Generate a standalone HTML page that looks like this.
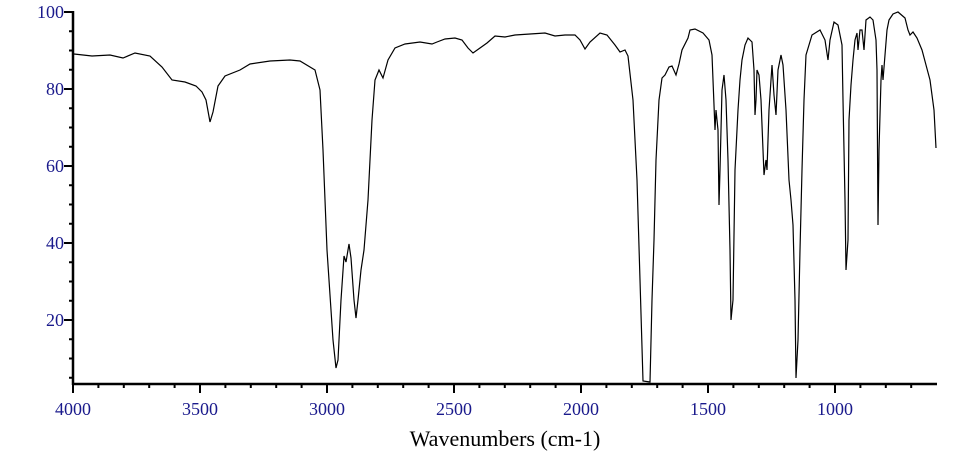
<!DOCTYPE html>
<html><head><meta charset="utf-8"><style>
html,body{margin:0;padding:0;background:#fff;width:960px;height:472px;overflow:hidden}
text{font-family:"Liberation Serif",serif}
</style></head><body>
<svg width="960" height="472" viewBox="0 0 960 472" xmlns="http://www.w3.org/2000/svg">
<g id="ticks" stroke="#000" stroke-width="2"></g>
<line x1="73" y1="11" x2="73" y2="385" stroke="#000" stroke-width="2.5"/>
<line x1="72" y1="384" x2="937" y2="384" stroke="#000" stroke-width="2.5"/>
<g fill="#1a1a8c" font-size="18">
<text x="64" y="18" text-anchor="end">100</text>
<text x="64" y="95" text-anchor="end">80</text>
<text x="64" y="172" text-anchor="end">60</text>
<text x="64" y="249" text-anchor="end">40</text>
<text x="64" y="326" text-anchor="end">20</text>
<text x="73" y="415" text-anchor="middle">4000</text>
<text x="200" y="415" text-anchor="middle">3500</text>
<text x="327" y="415" text-anchor="middle">3000</text>
<text x="454" y="415" text-anchor="middle">2500</text>
<text x="581" y="415" text-anchor="middle">2000</text>
<text x="708" y="415" text-anchor="middle">1500</text>
<text x="835" y="415" text-anchor="middle">1000</text>
</g>
<text x="505" y="446" text-anchor="middle" font-size="22" fill="#000">Wavenumbers (cm-1)</text>
<polyline fill="none" stroke="#000" stroke-width="1.2" points="74,54 92,56 110,55 123,58 135,53 150,56 162,67 172,80 185,82 196,86 202,92 206,100 210,122 213,112 218,86 225,76 240,70 250,64 270,61 290,60 300,61 315,70 320,90 323,150 327,250 333,340 336,368 338,360 341,300 344,256 346,262 349,244 351,258 354,300 356,318 358,300 361,270 364,250 368,200 372,120 375,80 379,70 383,78 388,60 395,48 405,44 420,42 432,44 437,42 445,39 455,38 462,40 468,48 473,53 480,48 487,43 495,36 505,37 515,35 530,34 545,33 555,36 565,35 575,35 580,40 585,49 590,42 600,33 607,35 615,45 620,52 625,50 628,56 633,100 637,180 640,280 643,381 650,382 652,300 654,240 656,160 659,100 662,78 665,75 669,67 672,66 676,75 679,64 682,50 688,38 690,30 695,29 703,33 709,40 712,55 715,130 716,110 718,130 719,205 720,170 722,90 724,75 726,100 728,160 730,250 731,320 733,300 735,170 738,110 740,80 742,60 745,45 748,38 752,42 754,70 755,115 756,100 757,70 759,75 761,100 763,150 764,175 766,160 767,170 769,110 772,65 774,95 776,115 778,70 781,55 783,65 786,110 789,180 791,200 793,225 795,300 796,378 798,340 800,250 802,170 804,100 806,55 812,35 820,30 825,40 828,60 830,40 834,22 838,25 842,45 843,100 845,200 846,270 848,240 849,120 851,85 853,60 855,40 857,33 858,50 860,30 862,30 864,50 866,20 870,17 873,20 876,40 877,70 878,225 879,150 881,80 882,65 883,80 885,55 887,30 889,20 893,14 898,12 905,18 908,30 910,35 913,32 917,38 922,50 926,65 930,80 934,110 936,148"/>
</svg>
<script>
var g=document.getElementById('ticks'),s='';
for(var v=5;v<=100;v+=5){var y=12+(100-v)*3.85,L=(v%20==0)?9:4;s+='<line x1="'+(73-L)+'" y1="'+y+'" x2="73" y2="'+y+'"/>';}
for(var w=4000;w>=700;w-=100){var x=73+(4000-w)*0.254,L=(w%500==0)?9:4;s+='<line x1="'+x+'" y1="384" x2="'+x+'" y2="'+(384+L)+'"/>';}
g.innerHTML=s;
</script>
</body></html>
